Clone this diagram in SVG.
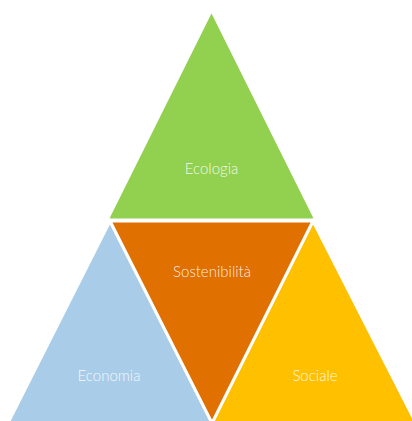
<svg xmlns="http://www.w3.org/2000/svg" width="412" height="421" viewBox="0 0 412 421">
<style>
.tri{stroke:#FFFFFF;stroke-width:3;stroke-linejoin:miter}
.lbl{font-family:Lato,"Open Sans","Liberation Sans",sans-serif;font-size:15px;font-weight:300;fill:#FFFFFF;fill-opacity:0.9;text-anchor:middle}
</style>
<rect width="412" height="421" fill="#FFFFFF"/>
<g id="ecologia">
<polygon class="tri" points="211.5,10 107,220 316,220" fill="#92D050"/>
<text class="lbl" x="211.5" y="174">Ecologia</text>
</g>
<g id="economia">
<polygon class="tri" points="110,221 8,423 212,423" fill="#A9CCE8"/>
<text class="lbl" x="109" y="381">Economia</text>
</g>
<g id="sociale">
<polygon class="tri" points="313,221 212,423 416,423" fill="#FFC000"/>
<text class="lbl" x="315" y="381">Sociale</text>
</g>
<g id="sostenibilita">
<polygon class="tri" points="110,221 313,221 212,423" fill="#E07000"/>
<text class="lbl" x="212" y="277">Sostenibilità</text>
</g>
<g id="connectors"></g>
</svg>
